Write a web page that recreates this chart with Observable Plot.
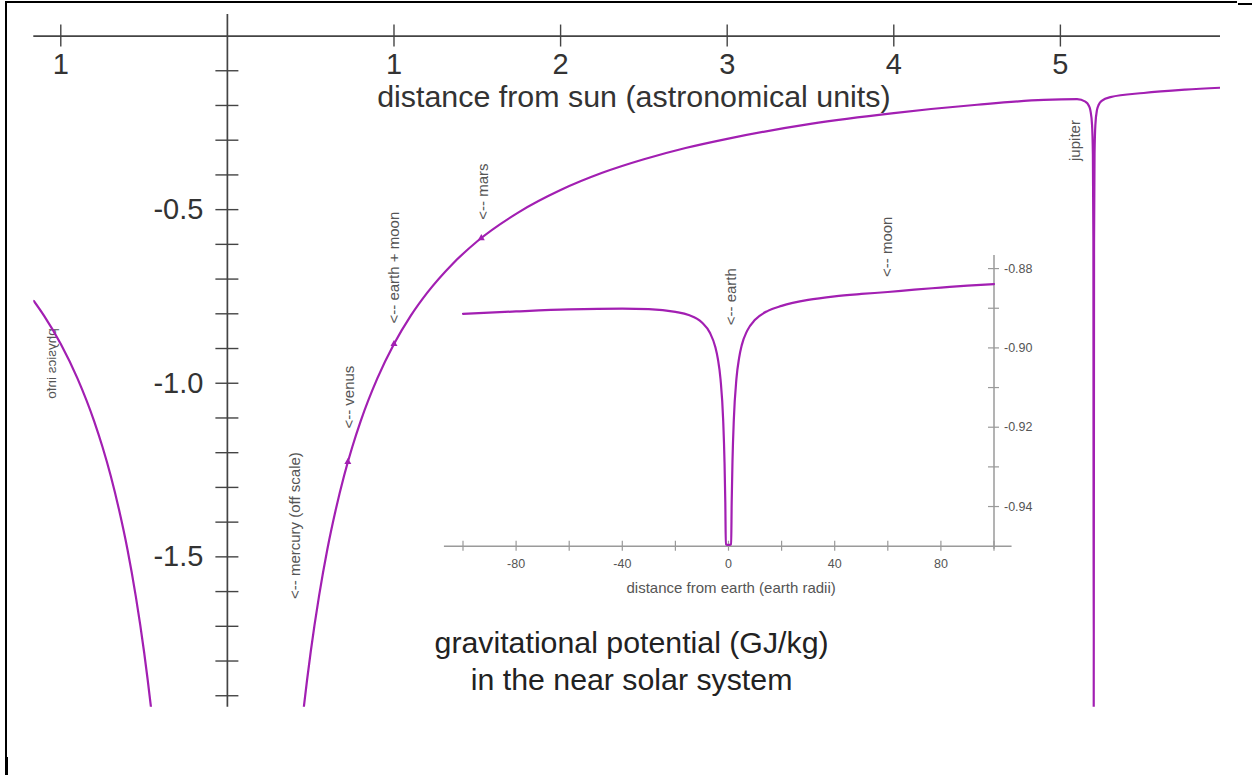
<!DOCTYPE html>
<html><head><meta charset="utf-8">
<script src="https://cdn.jsdelivr.net/npm/d3@7"></script>
<script src="https://cdn.jsdelivr.net/npm/@observablehq/plot@0.6"></script>
<style>
html,body{margin:0;padding:0;background:#fff;}
#wrap{position:relative;width:1252px;height:775px;overflow:hidden;font-family:"Liberation Sans",Arial,sans-serif;background:#fff;}
#main,#inset{position:absolute;}
#main{left:0;top:0;}
#inset{left:430px;top:245px;}
.bd{position:absolute;background:#000;}
</style></head>
<body><div id="wrap"><div id="main"></div><div id="inset"></div>
<div class="bd" style="left:5px;top:1px;width:1232px;height:2px"></div>
<div class="bd" style="left:1238px;top:3px;width:14px;height:2px"></div>
<div class="bd" style="left:5px;top:1px;width:2px;height:774px"></div>
<div class="bd" style="left:5px;top:757px;width:3px;height:18px"></div>
</div>
<script>
// ---- data: main chart (distance from sun in AU, potential in GJ/kg)
const sunwardAU = [-1.162, -1.1, -1.0, -0.9, -0.8, -0.75, -0.7, -0.65, -0.6, -0.55, -0.5, -0.46, -0.44];
const sunwardGJ = [-0.763, -0.806, -0.887, -0.986, -1.109, -1.183, -1.267, -1.365, -1.478, -1.613, -1.774, -1.928, -2.016];
const outwardAU = [0.44, 0.46, 0.5, 0.55, 0.6, 0.65, 0.7, 0.75, 0.8, 0.9, 1.0, 1.1, 1.2, 1.35, 1.5, 1.75, 2.0, 2.25, 2.5, 2.75, 3.0, 3.5, 4.0, 4.5, 4.9, 5.1, 5.15, 5.17, 5.18, 5.19, 5.195, 5.198, 5.2, 5.202, 5.205, 5.21, 5.22, 5.23, 5.25, 5.3, 5.5, 5.75, 6.0];
const outwardGJ = [-2.016, -1.928, -1.774, -1.613, -1.478, -1.365, -1.267, -1.183, -1.109, -0.986, -0.887, -0.806, -0.739, -0.657, -0.591, -0.507, -0.4435, -0.394, -0.355, -0.3225, -0.296, -0.253, -0.222, -0.198, -0.184, -0.182, -0.189, -0.200, -0.214, -0.256, -0.340, -0.594, -1.99, -0.594, -0.340, -0.255, -0.212, -0.198, -0.186, -0.176, -0.164, -0.1545, -0.148];

const planetNames = ["<-- mercury (off scale)", "<-- venus", "<-- earth + moon", "<-- mars", "jupiter"];
const planetAU = [0.387, 0.723, 1.0, 1.524, 5.2];
const markerAU = [0.723, 1.0, 1.524];
const markerGJ = [-1.227, -0.887, -0.582];

const sunTicks = [-1, 1, 2, 3, 4, 5];
const sunTickLabels = ["1", "1", "2", "3", "4", "5"];
const potTicks = [-0.1, -0.2, -0.3, -0.4, -0.5, -0.6, -0.7, -0.8, -0.9, -1.0, -1.1, -1.2, -1.3, -1.4, -1.5, -1.6, -1.7, -1.8, -1.9];
const potLabelValues = [-0.5, -1.0, -1.5];
const potLabels = ["-0.5", "-1.0", "-1.5"];

// ---- data: inset (distance from earth in earth radii, potential in GJ/kg)
const earthRadii = [-100, -80, -60, -40, -30, -20, -15, -10, -7, -5, -4, -3, -2, -1.5, -1.2, -1, 0, 1, 1.2, 1.5, 2, 3, 4, 5, 7, 10, 15, 20, 30, 40, 50, 60, 70, 80, 90, 100];
const nearEarthGJ = [-0.8914, -0.8908, -0.8903, -0.8901, -0.8902, -0.8909, -0.8917, -0.8936, -0.8962, -0.8997, -0.9028, -0.9079, -0.9183, -0.9288, -0.9391, -0.9495, -0.9497, -0.9495, -0.9390, -0.9286, -0.9182, -0.9077, -0.9025, -0.8993, -0.8957, -0.8929, -0.8906, -0.8894, -0.8879, -0.8870, -0.8864, -0.8859, -0.8853, -0.8848, -0.8843, -0.8839];
const earthTicks = [-100, -80, -60, -40, -20, 0, 20, 40, 60, 80, 100];
const earthLabelValues = [-80, -40, 0, 40, 80];
const insetTicks = [-0.94, -0.93, -0.92, -0.91, -0.90, -0.89, -0.88];
const insetLabelValues = [-0.88, -0.90, -0.92, -0.94];
const insetLabels = ["-0.88", "-0.90", "-0.92", "-0.94"];
const insetNames = ["<-- earth", "<-- moon"];
const insetNameR = [0, 60];

const xLabel = "distance from sun (astronomical units)";
const title = "gravitational potential (GJ/kg)\nin the near solar system";
const sideNote = "physics info";
const insetXLabel = "distance from earth (earth radii)";

// ---- styling
const FONT = "'Liberation Sans', Arial, Helvetica, sans-serif";
const CURVE = "#a21fb2";
const AX = "#444";
const px = 166.6, py = 347.2;         // main px per unit
const ipx = 2.655, ipy = 3966.7;      // inset px per unit

const sunward = sunwardAU.map((x, i) => ({x, y: sunwardGJ[i]}));
const outward = outwardAU.map((x, i) => ({x, y: outwardGJ[i]}));
const markers = markerAU.map((x, i) => ({x, y: markerGJ[i]}));
const labelPos = [[0.409, -1.410], [0.733, -1.040], [1.003, -0.667], [1.537, -0.448], [5.09, -0.301]];
const planetLabels = planetNames.map((t, i) => ({t, au: planetAU[i], x: labelPos[i][0], y: labelPos[i][1]}));

const main = Plot.plot({
  width: 1252, height: 775,
  marginLeft: 33.3, marginRight: 32, marginTop: 14, marginBottom: 68.3,
  x: {domain: [-1.162, 5.961], axis: null},
  y: {domain: [-1.933, 0.062], axis: null},
  style: {fontFamily: FONT, background: "transparent", overflow: "visible"},
  marks: [
    Plot.ruleY([0], {stroke: AX, strokeWidth: 1.7}),
    Plot.ruleX([0], {stroke: AX, strokeWidth: 1.7}),
    Plot.ruleX(sunTicks, {x: d => d, y1: -11 / py, y2: 11 / py, stroke: AX, strokeWidth: 1.4}),
    Plot.ruleY(potTicks, {y: d => d, x1: -11.5 / px, x2: 11.5 / px, stroke: AX, strokeWidth: 1.4}),
    Plot.text(sunTicks, {x: d => d, y: 0, dy: 29, text: (d, i) => sunTickLabels[i], fontSize: 29, fill: "#333"}),
    Plot.text(potLabelValues, {x: 0, y: d => d, dx: -24, textAnchor: "end", text: (d, i) => potLabels[i], fontSize: 29, fill: "#333"}),
    Plot.text([xLabel], {x: 2.44, y: -0.177, text: d => d, fontSize: 30.4, fill: "#333"}),
    Plot.text([title], {x: 2.426, y: -1.797, text: d => d, fontSize: 30.3, lineHeight: 1.2, fill: "#222"}),
    Plot.text(planetLabels, {x: "x", y: "y", text: "t", rotate: -90, fontSize: 15, fill: "#555"}),
    Plot.text([sideNote], {x: -1.052, y: -0.943, text: d => d, rotate: 90, fontSize: 13.5, fill: "#555"}),
    Plot.line(sunward, {x: "x", y: "y", curve: "monotone-x", stroke: CURVE, strokeWidth: 2.2, clip: true}),
    Plot.line(outward, {x: "x", y: "y", curve: "monotone-x", stroke: CURVE, strokeWidth: 2.2, clip: true}),
    Plot.dot(markers, {x: "x", y: "y", symbol: "triangle", r: 2.6, fill: CURVE, stroke: "none"})
  ]
});
document.getElementById("main").appendChild(main);

// mirror the side note, as it appears in the original image
main.querySelectorAll("text").forEach(t => {
  if (t.textContent === sideNote) {
    const tr = t.getAttribute("transform") || "";
    t.setAttribute("transform", tr + " scale(1,-1)");
  }
});

const IAX = "#9a9a9a";
const inset = Plot.plot({
  width: 620, height: 360,
  marginLeft: 32.5, marginRight: 56.5, marginTop: 10, marginBottom: 59.3,
  x: {domain: [-100, 100], axis: null},
  y: {domain: [-0.95, -0.8767], axis: null},
  style: {fontFamily: FONT, background: "transparent", overflow: "visible"},
  marks: [
    Plot.ruleY([-0.95], {x1: -107, x2: 106.8, stroke: IAX, strokeWidth: 1.5}),
    Plot.ruleX([100], {y1: -0.95 - 3 / ipy, y2: -0.8767, stroke: IAX, strokeWidth: 1.5}),
    Plot.ruleX(earthTicks, {x: d => d, y1: -0.95 - 5 / ipy, y2: -0.95 + 5 / ipy, stroke: IAX, strokeWidth: 1.2}),
    Plot.ruleY(insetTicks, {y: d => d, x1: 100 - 5.5 / ipx, x2: 100 + 5.5 / ipx, stroke: IAX, strokeWidth: 1.2}),
    Plot.text(earthLabelValues, {x: d => d, y: -0.95, dy: 17.5, text: d => String(d), fontSize: 12.5, fill: "#555"}),
    Plot.text(insetLabelValues, {x: 100, y: d => d, dx: 10, textAnchor: "start", text: (d, i) => insetLabels[i], fontSize: 12.5, fill: "#555"}),
    Plot.text([insetXLabel], {x: 1, y: -0.95, dy: 42, text: d => d, fontSize: 15, fill: "#555"}),
    Plot.line(earthRadii.map((x, i) => ({x, y: nearEarthGJ[i]})), {x: "x", y: "y", curve: "monotone-x", stroke: CURVE, strokeWidth: 2.2}),
    Plot.text(insetNames.map((t, i) => ({t, r: insetNameR[i]})), {x: d => d.r === 0 ? 0.94 : 59.7, y: d => d.r === 0 ? -0.8871 : -0.8745, text: "t", rotate: -90, fontSize: 15, fill: "#555"})
  ]
});
document.getElementById("inset").appendChild(inset);
</script>
</body></html>
